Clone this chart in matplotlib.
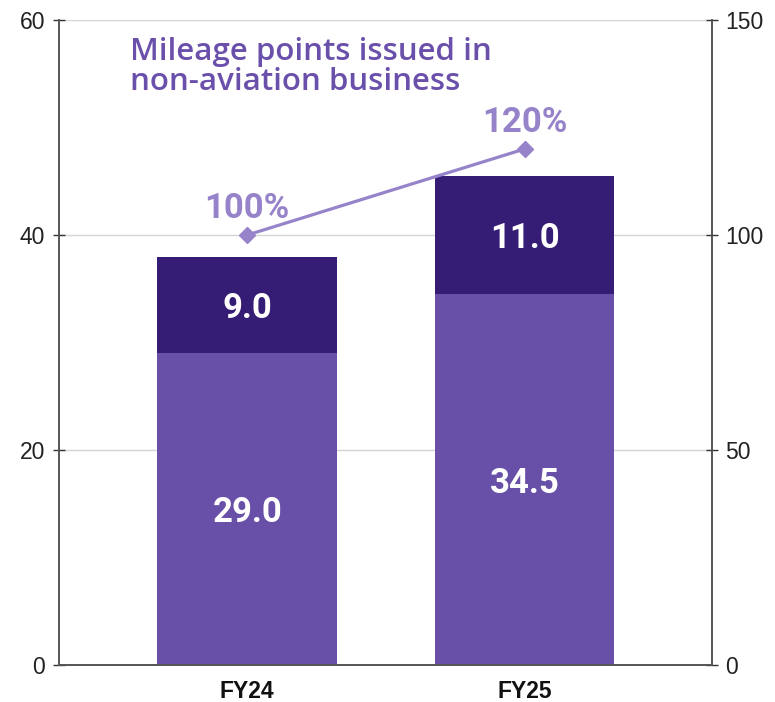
import matplotlib.pyplot as plt
import numpy as np

# data
years = ["FY24", "FY25"]
base_vals = [29.0, 34.5]
top_vals = [9.0, 11.0]
ratio_vals = [100, 120]
ratio_labels = ["100%", "120%"]
left_ticks = [0, 20, 40, 60]
right_ticks = [0, 50, 100, 150]
title_lines = ["Mileage points issued in", "non-aviation business"]

c_base = "#6850a8"
c_top = "#351c75"
c_line = "#9683c9"
c_title = "#6a50ab"

fig = plt.figure(figsize=(7.75, 7.02), dpi=100)
ax = fig.add_axes([0.0761, 0.0527, 0.8422, 0.9188])
ax2 = ax.twinx()

x = np.arange(len(years))
w = 0.649
ax.bar(x, base_vals, width=w, color=c_base, zorder=2)
ax.bar(x, top_vals, width=w, bottom=base_vals, color=c_top, zorder=2)

for i in range(len(years)):
    ax.text(x[i], base_vals[i] / 2, f"{base_vals[i]:.1f}", ha="center", va="center_baseline",
            color="white", fontsize=25, fontweight="bold", family="Roboto", zorder=3)
    ax.text(x[i], base_vals[i] + top_vals[i] / 2, f"{top_vals[i]:.1f}", ha="center",
            va="center_baseline", color="white", fontsize=25, fontweight="bold",
            family="Roboto", zorder=3)

ax.set_xlim(-0.679, 1.675)
ax.set_ylim(0, 60)
ax.set_yticks(left_ticks)
ax.set_xticks(x)
ax.set_xticklabels(years, family="Liberation Sans", fontweight="bold", fontsize=16.5)
ax.tick_params(axis="x", length=0, pad=11, colors="#111111")
ax.tick_params(axis="y", direction="inout", length=8, width=1, color="#333333",
               labelsize=16.5, pad=6, labelcolor="#222222")
for lab in ax.get_yticklabels():
    lab.set_family("Liberation Sans")
ax.yaxis.grid(True, color="#d4d4d4", lw=1, zorder=0)
ax.set_axisbelow(True)

ax2.set_ylim(0, 150)
ax2.set_yticks(right_ticks)
ax2.tick_params(axis="y", direction="inout", length=8, width=1, color="#333333",
                labelsize=16.5, pad=6, labelcolor="#222222")
for lab in ax2.get_yticklabels():
    lab.set_family("Liberation Sans")
ax2.plot(x, ratio_vals, color=c_line, lw=2.3, marker="D", markersize=8, zorder=4)
for i in range(len(years)):
    ax2.annotate(ratio_labels[i], (x[i], ratio_vals[i]), xytext=(0, 12),
                 textcoords="offset points", ha="center", va="baseline",
                 color=c_line, fontsize=25, fontweight="bold", family="Roboto")

for a in (ax, ax2):
    a.spines["top"].set_visible(False)
    for s in ("left", "right", "bottom"):
        a.spines[s].set_color("#555555")
        a.spines[s].set_linewidth(1.2)

for line, yy in zip(title_lines, [0.938, 0.891]):
    ax.text(0.109, yy, line, transform=ax.transAxes, ha="left", va="baseline",
            color=c_title, fontsize=22.5, fontweight="semibold", family="Open Sans")

fig.savefig("out.png", dpi=100)
